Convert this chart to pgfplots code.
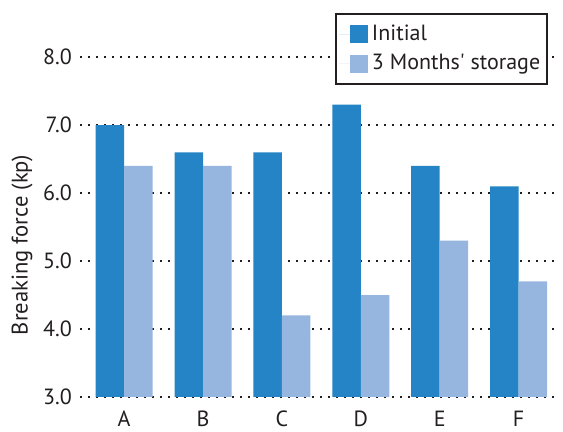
\documentclass[border=0pt]{standalone}
\usepackage{pgfplots}
\pgfplotsset{compat=1.18}
\usepackage{fontspec}
\setmainfont{PT Sans}
\definecolor{cinit}{HTML}{2484C6}
\definecolor{cstor}{HTML}{96B6DF}
\definecolor{ctxt}{HTML}{231F20}
\begin{document}
\begin{tikzpicture}
\useasboundingbox (-40pt,-17.5pt) rectangle (241.5pt,198.5pt);
\begin{axis}[
  at={(0,0)}, anchor=south west,
  scale only axis,
  width=239pt, height=198.5pt,
  xmin=-0.56, xmax=5.5,
  ymin=3, ymax=8.84,
  ybar=0pt, bar width=14.25pt,
  xtick={0,1,2,3,4,5},
  xticklabels={A,B,C,D,E,F},
  ytick={3,4,5,6,7,8},
  yticklabel style={/pgf/number format/fixed, /pgf/number format/fixed zerofill, /pgf/number format/precision=1, /pgf/number format/assume math mode=true, xshift=-0.5pt},
  major tick length=0pt,
  axis line style={draw=none},
  ymajorgrids,
  grid style={ctxt, line width=0.9pt, dash pattern=on 0.9pt off 3.1pt},
  tick label style={font=\fontsize{11}{12}\selectfont, text=ctxt},
  xticklabel style={yshift=-3.5pt},
  ylabel={Breaking force (kp)},
  ylabel style={font=\fontsize{11.3}{12}\selectfont, text=ctxt, at={(rel axis cs:0,0.383)}, anchor=center, yshift=29pt},
  legend style={at={(rel axis cs:0.979,0.967)}, anchor=north east, draw=ctxt, line width=0.8pt,
    font=\fontsize{11}{12}\selectfont, text=ctxt, inner xsep=1.5pt, inner ysep=3.5pt, row sep=1.5pt},
  legend cell align=left,
  legend image code/.code={\fill[#1] (0pt,-4.5pt) rectangle (9pt,4.5pt); \path (-5.5pt,0) -- (9pt,0);},
]
\addplot[fill=cinit, draw=none] coordinates {(0,7.0) (1,6.6) (2,6.6) (3,7.3) (4,6.4) (5,6.1)};
\addplot[fill=cstor, draw=none] coordinates {(0,6.4) (1,6.4) (2,4.2) (3,4.5) (4,5.3) (5,4.7)};
\legend{Initial, 3 Months\textquotesingle{} storage}
\end{axis}
\end{tikzpicture}
\end{document}
